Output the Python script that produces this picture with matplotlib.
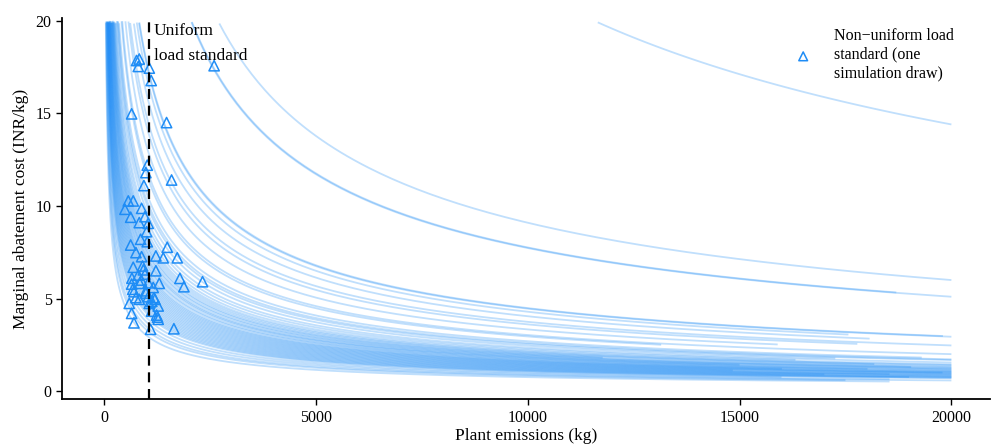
import numpy as np
import matplotlib
matplotlib.use("Agg")
import matplotlib.pyplot as plt

plt.rcParams['font.family'] = ['Liberation Serif', 'DejaVu Serif']

# plant marginal abatement cost curves: MAC = k * (E / 20000) ** -0.6
# k = MAC at 20000 kg, end = largest emission level drawn for that plant
curve_k = [14.4, 6.0, 5.12, 5.10, 2.96, 2.94, 2.83, 2.67, 2.47, 2.38,
           2.20, 2.00, 1.95, 1.78, 1.72, 1.68, 1.62, 1.55, 1.50, 1.45,
           1.41, 1.38, 1.35, 1.32, 1.30, 1.27, 1.25, 1.22, 1.20, 1.18,
           1.15, 1.13, 1.10, 1.08, 1.06, 1.04, 1.02, 1.00, 0.98, 0.96,
           0.94, 0.92, 0.90, 0.88, 0.86, 0.84, 0.82, 0.80, 0.78, 0.76,
           0.74, 0.72, 0.70, 0.66, 0.62, 0.58, 0.55, 0.50]
curve_end = [20000, 20000, 18700, 20000, 19800, 20000, 17570, 18070, 20000, 17780,
             15900, 20000, 13150, 19300, 20000, 20000, 17260, 20000, 16320, 20000,
             20000, 18180, 20000, 11770, 20000, 19050, 20000, 20000, 15000, 20000,
             20000, 18020, 20000, 20000, 16000, 20000, 20000, 19790, 20000, 20000,
             14840, 20000, 20000, 18540, 20000, 20000, 17000, 20000, 20000, 20000,
             19000, 20000, 20000, 15990, 18540, 20000, 17500, 18540]
curve_exp = 0.6

# non-uniform load standard, one simulation draw
tri_x = [770, 833, 810, 1070, 1115, 2600, 653, 1478, 1022, 990,
         1596, 943, 574, 691, 495, 889, 630, 967, 833, 1045,
         1007, 865, 1022, 630, 1494, 755, 889, 1226, 1400, 1730,
         691, 912, 1226, 810, 967, 1792, 2327, 653, 849, 1045,
         1305, 1887, 708, 990, 1163, 833, 1045, 1203, 597, 1069,
         1281, 653, 1124, 1242, 1281, 708, 1101, 1651, 1265, 1180,
         660, 880, 990, 755, 1130, 930, 680]
tri_y = [17.85, 17.93, 17.53, 17.44, 16.77, 17.57, 14.97, 14.50, 12.20, 11.80,
         11.40, 11.10, 10.27, 10.27, 9.82, 9.87, 9.39, 9.42, 9.10, 9.06,
         8.61, 8.20, 8.07, 7.89, 7.77, 7.48, 7.26, 7.30, 7.20, 7.20,
         6.69, 6.76, 6.50, 6.27, 6.32, 6.09, 5.91, 5.78, 5.82, 5.85,
         5.82, 5.64, 5.37, 5.42, 5.60, 4.96, 5.10, 4.96, 4.74, 4.74,
         4.60, 4.20, 4.32, 4.11, 3.88, 3.69, 3.34, 3.37, 4.00, 5.05,
         6.10, 6.00, 5.30, 5.05, 4.85, 6.55, 5.50]

uniform_std = 1060

fig = plt.figure(figsize=(9.92, 4.48), dpi=100)
ax = fig.add_axes([0.0625, 0.109, 0.935, 0.851])

blue = '#1E8CF5'
for k, end in zip(curve_k, curve_end):
    e = np.geomspace(5, end, 600)
    mac = k * (e / 20000.0) ** (-curve_exp)
    keep = mac <= 20
    ax.plot(e[keep], mac[keep], color=blue, alpha=0.28, lw=1.3,
            solid_capstyle='butt')

ax.scatter(tri_x, tri_y, marker='^', s=55, facecolors='none',
           edgecolors=blue, linewidths=1.1, zorder=3,
           label='Non\u2212uniform load\nstandard (one\nsimulation draw)')

ax.axvline(uniform_std, color='black', ls=(0, (4.5, 3)), lw=1.6, zorder=4)
ax.text(uniform_std + 120, 19.85, 'Uniform\nload standard', ha='left',
        va='top', fontsize=12.5, linespacing=1.7)

ax.set_xlim(-990, 20900)
ax.set_ylim(-0.43, 20.15)
ax.set_xticks([0, 5000, 10000, 15000, 20000])
ax.set_yticks([0, 5, 10, 15, 20])
ax.tick_params(direction='out', length=4, width=1, labelsize=11.5, colors='black')
for side in ['top', 'right']:
    ax.spines[side].set_visible(False)
for side in ['left', 'bottom']:
    ax.spines[side].set_linewidth(1.3)

ax.set_xlabel('Plant emissions (kg)', fontsize=12.5, labelpad=2)
ax.set_ylabel('Marginal abatement cost (INR/kg)', fontsize=12.5, labelpad=5)

ax.legend(loc='upper left', bbox_to_anchor=(0.775, 0.99), frameon=False,
          fontsize=11.5, handletextpad=0.9, markerscale=0.85,
          borderaxespad=0, labelspacing=0.2)

fig.savefig('out.png', dpi=100)
